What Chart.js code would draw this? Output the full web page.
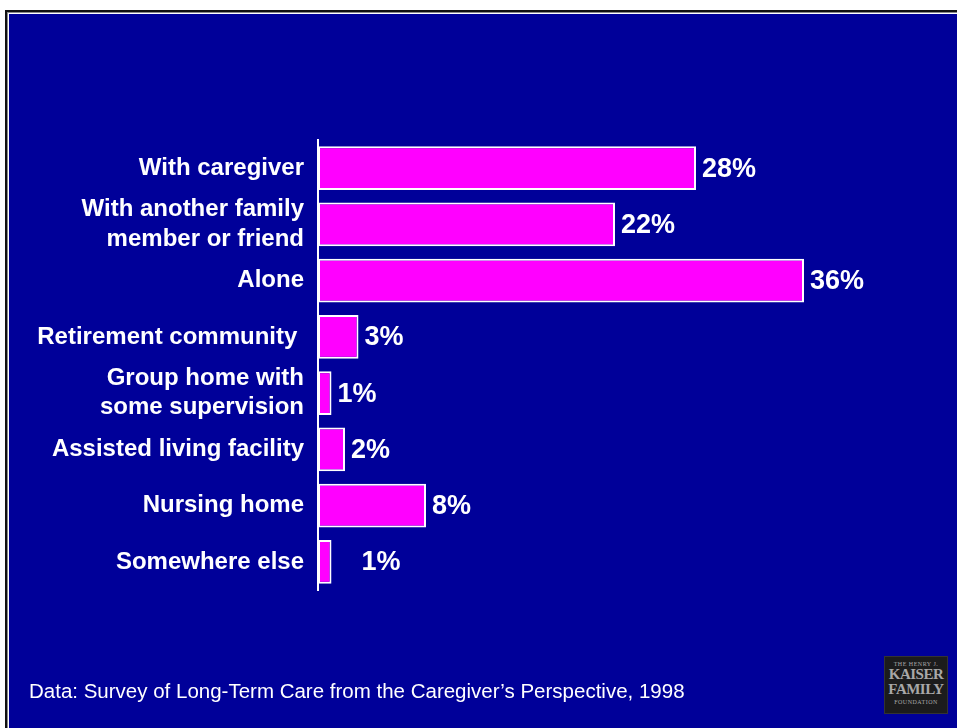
<!DOCTYPE html>
<html>
<head>
<meta charset="utf-8">
<script src="https://cdn.jsdelivr.net/npm/chart.js@4/dist/chart.umd.min.js"></script>
<style>
  html, body { margin: 0; padding: 0; background: #fff; overflow: hidden; }
  #slide {
    position: absolute; left: 0; top: 0; width: 957px; height: 728px; overflow: hidden;
  }
  #frame {
    position: absolute; left: 5px; top: 10px; width: 1000px; height: 1000px;
    background: #000099;
    border-left: 2px solid #111; border-top: 2px solid #111;
    box-shadow: inset 1px 1px 0 #8a8a8a, inset 2px 2px 0 #fff;
  }
  #chart { position: absolute; left: 0; top: 0; }
  #source {
    position: absolute; left: 29px; top: 679px;
    font: 20.5px/24px "Liberation Sans", Arial, sans-serif; color: #fff; white-space: nowrap;
  }
  #logo {
    position: absolute; left: 884px; top: 656px; width: 62px; height: 56px;
    background: #1c1c1c; border: 1px solid #333;
    color: #a8a8a8; font-family: "Liberation Serif", "Times New Roman", serif;
    text-align: center; line-height: 1;
  }
  #logo .small { font-size: 6px; letter-spacing: 0.5px; margin-top: 4px; }
  #logo .big { font-size: 15px; font-weight: bold; letter-spacing: -0.5px; }
</style>
</head>
<body>
<div id="slide">
  <div id="frame"></div>
  <canvas id="chart" width="957" height="728"></canvas>
  <div id="source">Data: Survey of Long-Term Care from the Caregiver’s Perspective, 1998</div>
  <div id="logo">
    <div class="small">THE HENRY J.</div>
    <div class="big">KAISER</div>
    <div class="big">FAMILY</div>
    <div class="small" style="margin-top:2px">FOUNDATION</div>
  </div>
</div>
<script>
// where the care recipient lives, share of caregivers
const places = [
  'With caregiver',
  ['With another family', 'member or friend'],
  'Alone',
  'Retirement community ',
  ['Group home with', 'some supervision'],
  'Assisted living facility',
  'Nursing home',
  'Somewhere else'
];
const shares = [28, 22, 36, 3, 1, 2, 8, 1];

const MAGENTA = '#ff00ff';
const BOLD = '"Liberation Sans", Arial, sans-serif';

// percent labels to the right of each bar; the last one sits a bit further out
const percentLabels = {
  id: 'percentLabels',
  afterDatasetsDraw(chart) {
    const ctx = chart.ctx;
    const meta = chart.getDatasetMeta(0);
    ctx.save();
    ctx.font = 'bold 27px ' + BOLD;
    ctx.fillStyle = '#fff';
    ctx.textAlign = 'left';
    ctx.textBaseline = 'middle';
    meta.data.forEach((bar, i) => {
      const extra = i === meta.data.length - 1 ? 24 : 0;
      ctx.fillText(shares[i] + '%', bar.x + 6 + extra, bar.y + 1);
    });
    ctx.restore();
  }
};

new Chart(document.getElementById('chart'), {
  type: 'bar',
  data: {
    labels: places,
    datasets: [{
      data: shares,
      backgroundColor: MAGENTA,
      borderColor: '#fff',
      borderWidth: 2,
      borderSkipped: false,
      categoryPercentage: 1,
      barPercentage: 0.78
    }]
  },
  options: {
    indexAxis: 'y',
    responsive: false,
    animation: false,
    layout: { padding: { left: 0, top: 140, right: 99, bottom: 138 } },
    plugins: { legend: { display: false }, tooltip: { enabled: false } },
    scales: {
      x: { display: false, min: 0, max: 40 },
      y: {
        grid: { display: false, drawTicks: false },
        border: { display: true, color: '#fff', width: 2 },
        ticks: {
          color: '#fff',
          padding: 14,
          autoSkip: false,
          font: { family: BOLD, size: 24, weight: 'bold', lineHeight: 1.22 }
        },
        afterFit(scale) { scale.width = 318; }
      }
    }
  },
  plugins: [percentLabels]
});
</script>
</body>
</html>
